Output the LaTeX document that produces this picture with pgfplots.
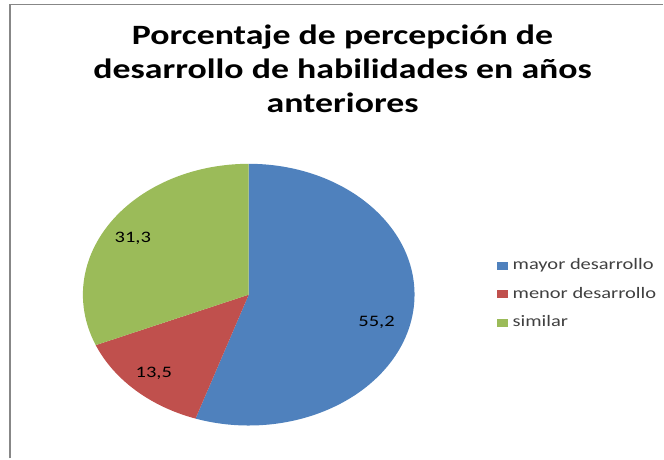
\documentclass[border=0pt]{standalone}
\usepackage{pgfplots}
\pgfplotsset{compat=1.18}
\usepackage{pgfplotstable}
\usepackage{fontspec}
\setmainfont{Carlito}
\definecolor{cblue}{HTML}{4F81BD}
\definecolor{cred}{HTML}{C0504D}
\definecolor{cgreen}{HTML}{9BBB59}
\definecolor{framec}{HTML}{878787}
\definecolor{legtext}{HTML}{404040}
\pgfplotstableread{
value
55.2
13.5
31.3
}\piedata
\pgfkeys{/pgf/number format/.cd, fixed, fixed zerofill, precision=1, use comma, assume math mode=true}
\begin{document}
\begin{tikzpicture}
\pgfplotstablegetelem{0}{value}\of\piedata \let\vA\pgfplotsretval
\pgfplotstablegetelem{1}{value}\of\piedata \let\vB\pgfplotsretval
\pgfplotstablegetelem{2}{value}\of\piedata \let\vC\pgfplotsretval
\pgfmathsetmacro\aA{90}
\pgfmathsetmacro\aB{90-3.6*\vA}
\pgfmathsetmacro\aC{\aB-3.6*\vB}
\pgfmathsetmacro\aD{\aC-3.6*\vC}
\begin{axis}[
  width=664bp, height=459bp, scale only axis,
  xmin=0, xmax=664, ymin=0, ymax=459,
  hide axis, clip=false]
\path (axis cs:0,0) rectangle (axis cs:664,459);
% frame
\draw[framec, line width=1.5bp] (axis cs:10,0) -- (axis cs:10,454.5) -- (axis cs:664,454.5);
% pie
\fill[cblue] (axis cs:249,164) -- ++(\aA:166bp and 131bp) arc[start angle=\aA, end angle=\aB, x radius=166bp, y radius=131bp] -- cycle;
\fill[cred] (axis cs:249,164) -- ++(\aB:166bp and 131bp) arc[start angle=\aB, end angle=\aC, x radius=166bp, y radius=131bp] -- cycle;
\fill[cgreen] (axis cs:249,164) -- ++(\aC:166bp and 131bp) arc[start angle=\aC, end angle=\aD, x radius=166bp, y radius=131bp] -- cycle;
% data labels
\node[anchor=base, xscale=1.28, inner sep=0pt, font=\fontsize{16bp}{19bp}\selectfont] at (axis cs:377,132) {\pgfmathprintnumber{\vA}};
\node[anchor=base, xscale=1.28, inner sep=0pt, font=\fontsize{16bp}{19bp}\selectfont] at (axis cs:154,81) {\pgfmathprintnumber{\vB}};
\node[anchor=base, xscale=1.28, inner sep=0pt, font=\fontsize{16bp}{19bp}\selectfont] at (axis cs:133,216) {\pgfmathprintnumber{\vC}};
% title
\node[anchor=base, xscale=1.28, inner sep=0pt, font=\fontsize{28bp}{34bp}\selectfont\bfseries] at (axis cs:343,414) {Porcentaje de percepción de};
\node[anchor=base, xscale=1.28, inner sep=0pt, font=\fontsize{28bp}{34bp}\selectfont\bfseries] at (axis cs:343,380) {desarrollo de habilidades en años};
\node[anchor=base, xscale=1.28, inner sep=0pt, font=\fontsize{28bp}{34bp}\selectfont\bfseries] at (axis cs:343,346) {anteriores};
% legend
\fill[cblue] (axis cs:498,189) rectangle (axis cs:509,197);
\fill[cred] (axis cs:498,160.5) rectangle (axis cs:509,168.5);
\fill[cgreen] (axis cs:498,132) rectangle (axis cs:509,140);
\node[anchor=base west, xscale=1.28, inner sep=0pt, text=legtext, font=\fontsize{16bp}{18bp}\selectfont] at (axis cs:513,189) {mayor desarrollo};
\node[anchor=base west, xscale=1.28, inner sep=0pt, text=legtext, font=\fontsize{16bp}{18bp}\selectfont] at (axis cs:513,160.5) {menor desarrollo};
\node[anchor=base west, xscale=1.28, inner sep=0pt, text=legtext, font=\fontsize{16bp}{18bp}\selectfont] at (axis cs:513,132) {similar};
\end{axis}
\end{tikzpicture}
\end{document}
